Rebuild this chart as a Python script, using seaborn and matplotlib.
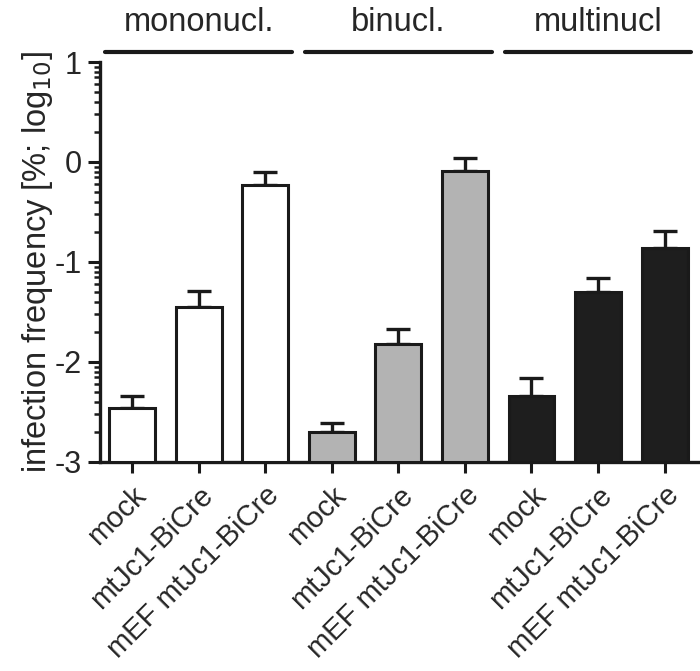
import numpy as np
import pandas as pd
import seaborn as sns
import matplotlib.pyplot as plt
from matplotlib.ticker import FixedLocator

# data (log10 of infection frequency in %)
groups = ["mononucl.", "binucl.", "multinucl"]
conditions = ["mock", "mtJc1-BiCre", "mEF mtJc1-BiCre"]
mono_mean = [-2.46, -1.45, -0.23]
bi_mean = [-2.70, -1.82, -0.09]
multi_mean = [-2.34, -1.30, -0.86]
mono_err = [0.12, 0.16, 0.13]
bi_err = [0.09, 0.15, 0.13]
multi_err = [0.18, 0.14, 0.17]
group_colors = ["white", "#b3b3b3", "#1e1e1e"]
baseline = -3

sns.set_style("ticks")
plt.rcParams['font.family'] = ['Liberation Sans', 'DejaVu Sans']

means = mono_mean + bi_mean + multi_mean
errs = mono_err + bi_err + multi_err
df = pd.DataFrame({
    "bar": [g + "|" + c for g in groups for c in conditions],
    "cond": [c for g in groups for c in conditions],
    "mean": means,
})
df["height"] = df["mean"] - baseline
colors = [col for col in group_colors for c in conditions]

fig, ax = plt.subplots(figsize=(7, 6.71), dpi=100)
fig.subplots_adjust(left=0.143, right=0.997, bottom=0.3115, top=0.9076)

sns.barplot(data=df, x="bar", y="height", hue="bar", palette=colors,
            legend=False, width=0.69, bottom=baseline, edgecolor="#1a1a1a",
            linewidth=2.2, ax=ax, zorder=3)

ax.errorbar(np.arange(len(means)), means, yerr=[np.zeros(len(errs)), errs],
            fmt="none", ecolor="#1a1a1a", elinewidth=2.4, capsize=8.5,
            capthick=2.4, zorder=2)

ax.set_ylim(-3, 1)
ax.set_xlim(-0.48, 8.5)
ax.set_yticks([-3, -2, -1, 0, 1])
ax.set_yticklabels(["-3", "-2", "-1", "0", "1"], fontsize=22)
minor = [m + np.log10(k) for m in range(-3, 1) for k in range(2, 10)]
ax.yaxis.set_minor_locator(FixedLocator(minor))
ax.tick_params(axis="y", which="major", length=9, width=2.2, color="#1a1a1a", pad=4)
ax.tick_params(axis="y", which="minor", length=4.5, width=1.8, color="#1a1a1a")
ax.tick_params(axis="x", length=8, width=2.2, color="#1a1a1a", pad=6)
ax.set_xticks(range(len(df)))
ax.set_xticklabels(df["cond"], rotation=45, ha="right",
                   rotation_mode="anchor", fontsize=21)
ax.set_xlabel("")
ax.set_ylabel("infection frequency [%; log$_{10}$]", fontsize=23.5, labelpad=0)

sns.despine(ax=ax)
for s in ["left", "bottom"]:
    ax.spines[s].set_linewidth(2.4)
    ax.spines[s].set_color("#1a1a1a")

# group headers above the plot
tr = ax.get_xaxis_transform()
for i, g in enumerate(groups):
    ax.plot([3 * i - 0.4, 3 * i + 2.4], [1.025, 1.025], color="#1a1a1a",
            lw=3, transform=tr, clip_on=False, solid_capstyle="round")
    ax.text(3 * i + 1, 1.10, g, transform=tr, ha="center", va="center",
            fontsize=23.5)

fig.savefig("out.png", dpi=100)
